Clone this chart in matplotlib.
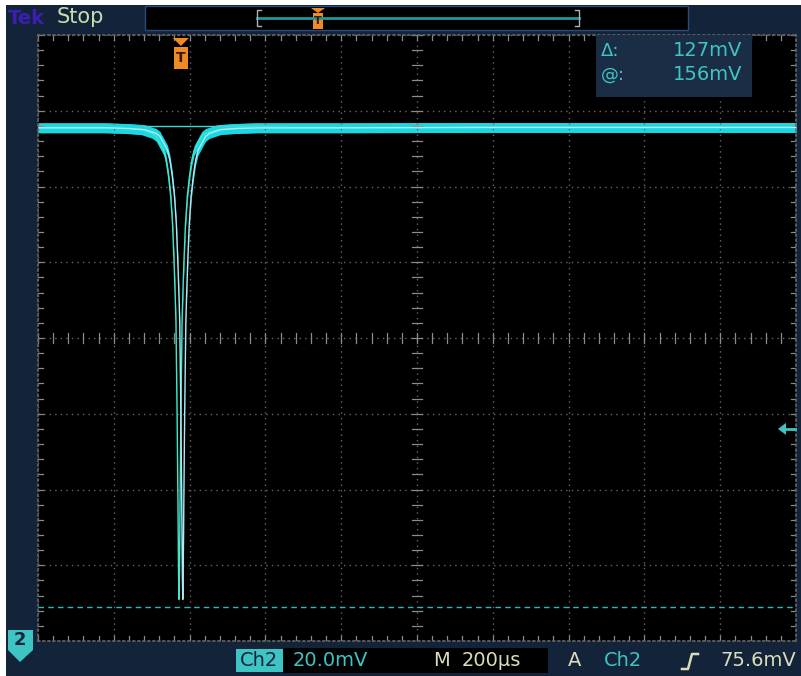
import matplotlib

matplotlib.use("Agg")

import matplotlib.pyplot as plt
import numpy as np
from matplotlib.patches import Polygon, Rectangle

# scope settings (20 mV/div, 200 us/div, 10 x 8 divisions)
VOLT_DIV = 20.0
TIME_DIV = 200.0
X_DIVS = 10
Y_DIVS = 8

# trace: time (us) and level (mV)
trace_time = [-1000, -900, -823, -763, -723, -693, -683, -671, -663, -657,
              -651, -645, -640, -636, -633, -631, -628, -625.7, -624.2, -623,
              -621.8, -620.3, -618, -615, -613, -610, -606, -601, -595, -589,
              -583, -575, -563, -553, -523, -483, -423, -200, 200, 600, 1000]
trace_mv = [55.5, 55.5, 55.5, 55.3, 55.0, 54.0, 53.2, 51.0, 49.5, 47.0,
            43.0, 37.5, 30.0, 20.0, 11.0, 4.0, -20.0, -44.0, -62.0, -69.0,
            -62.0, -44.0, -20.0, 4.0, 11.0, 20.0, 30.0, 37.5, 43.0, 47.0,
            49.5, 51.0, 53.2, 54.0, 55.0, 55.3, 55.5, 55.5, 55.6, 55.6, 55.6]

# cursors / markers
ref_line_time = [-720, -340]
ref_line_mv = 56.1
dashed_level_mv = -71.0
trig_time = -623
trig_level_mv = -24.0
readout = [("Δ:", "127mV"), ("@:", "156mV")]

NAVY = "#13243a"
TEAL = "#3fc4c4"
GRIDC = "#666666"
PALE = "#dcdcb8"

fig = plt.figure(figsize=(8.01, 6.76), dpi=100, facecolor="white")

# pixel-space background layer
bg = fig.add_axes([0, 0, 1, 1], zorder=0)
bg.set_xlim(0, 801)
bg.set_ylim(676, 0)
bg.axis("off")
bg.add_patch(Rectangle((6, 5), 795, 671, facecolor=NAVY, edgecolor="none"))

# top status bar
bg.add_patch(Rectangle((145, 6), 543, 24, facecolor="black", edgecolor="#2c4a78", linewidth=1))
bg.text(8, 18, "Tek", color="#3a1fb0", fontsize=14, fontweight="bold", va="center")
bg.text(57, 17, "Stop", color="#c8dcb0", fontsize=15, va="center")
bg.plot([257, 579], [18, 18], color="#1a9a9a", linewidth=2)
bg.plot([261, 257, 257, 261], [10, 10, 26, 26], color="#b0b0b0", linewidth=1)
bg.plot([575, 579, 579, 575], [10, 10, 26, 26], color="#b0b0b0", linewidth=1)
bg.add_patch(Polygon([[311, 8], [325, 8], [318, 13]], closed=True, facecolor="#f08a24"))
bg.add_patch(Rectangle((313, 13), 10, 16, facecolor="#f08a24", edgecolor="none"))
bg.text(318, 21, "T", color="#3a1a00", fontsize=8, fontweight="bold", ha="center", va="center")

# bottom status bar
bg.add_patch(Rectangle((283, 648), 265, 25, facecolor="black", edgecolor="none"))
bg.add_patch(Rectangle((236, 649), 47, 23, facecolor=TEAL, edgecolor="none"))
bg.text(259, 661, "Ch2", color=NAVY, fontsize=14, ha="center", va="center")
bg.text(293, 661, "20.0mV", color=TEAL, fontsize=14, va="center")
bg.text(433, 661, "M", color=PALE, fontsize=14, va="center")
bg.text(462, 661, "200µs", color=PALE, fontsize=14, va="center")
bg.text(568, 661, "A", color=PALE, fontsize=14, va="center")
bg.text(604, 661, "Ch2", color=TEAL, fontsize=14, va="center")
bg.plot([682, 688, 692, 698], [669, 669, 654, 654], color=PALE, linewidth=1.8)
bg.text(796, 661, "75.6mV", color=PALE, fontsize=14, ha="right", va="center")

# screen
x_half = X_DIVS / 2 * TIME_DIV
y_half = Y_DIVS / 2 * VOLT_DIV
ax = fig.add_axes([38 / 801, 1 - 641 / 676, 758 / 801, 606 / 676], zorder=1)
ax.set_facecolor("black")
ax.set_xlim(-x_half, x_half)
ax.set_ylim(-y_half, y_half)
ax.set_xticks(np.arange(-x_half, x_half + 1, TIME_DIV))
ax.set_yticks(np.arange(-y_half, y_half + 1, VOLT_DIV))
ax.tick_params(length=0, labelbottom=False, labelleft=False)
ax.grid(True, color=GRIDC, linestyle=(0, (1, 3)), linewidth=1)
for sp in ax.spines.values():
    sp.set_color(GRIDC)
    sp.set_linestyle((0, (1, 2)))
    sp.set_linewidth(1.2)

# minor ticks on centre cross and edges
mx = np.arange(-x_half, x_half + 1, TIME_DIV / 5)
my = np.arange(-y_half, y_half + 1, VOLT_DIV / 5)
tx = VOLT_DIV * 0.07
ty = TIME_DIV * 0.07
for x in mx:
    ax.plot([x, x], [-tx, tx], color="#8a8a8a", linewidth=0.9)
    ax.plot([x, x], [y_half, y_half - tx], color="#8a8a8a", linewidth=0.9)
    ax.plot([x, x], [-y_half, -y_half + tx], color="#8a8a8a", linewidth=0.9)
for y in my:
    ax.plot([-ty, ty], [y, y], color="#8a8a8a", linewidth=0.9)
    ax.plot([-x_half, -x_half + ty], [y, y], color="#8a8a8a", linewidth=0.9)
    ax.plot([x_half, x_half - ty], [y, y], color="#8a8a8a", linewidth=0.9)

# dashed cursor level
ax.axhline(dashed_level_mv, color="#2fb8b8", linestyle=(0, (4, 3)), linewidth=1)

# the trace (two overlapping sweeps give the doubled edges of the dip)
t = np.array(trace_time, dtype=float)
v = np.array(trace_mv, dtype=float)
for shift, edge in [(-5, "#40e8c8"), (5, "#b0e8f4")]:
    ax.fill_between(t + shift, v - 1.3, v + 1.3, color="#1ad8e2", linewidth=0)
    ax.plot(t + shift, v, color=edge, linewidth=1.0)
ax.plot(ref_line_time, [ref_line_mv, ref_line_mv], color="#3fd8d8", linewidth=1)

# overlay layer: trigger markers, readout box, channel marker
top = fig.add_axes([0, 0, 1, 1], zorder=5)
top.set_xlim(0, 801)
top.set_ylim(676, 0)
top.axis("off")
top.patch.set_alpha(0)

px_trig = 38 + (trig_time + x_half) / (2 * x_half) * 758
top.add_patch(Polygon([[px_trig - 8, 38], [px_trig + 8, 38], [px_trig, 46]], closed=True, facecolor="#f08a24"))
top.add_patch(Rectangle((px_trig - 7, 47), 14, 22, facecolor="#f08a24", edgecolor="none"))
top.text(px_trig, 58, "T", color="#3a1a00", fontsize=10, fontweight="bold", ha="center", va="center")

py_level = 338 - trig_level_mv / VOLT_DIV * 75.75
top.add_patch(Polygon([[778, py_level], [786, py_level - 6], [786, py_level + 6]], closed=True, facecolor=TEAL))
top.plot([786, 795], [py_level, py_level], color=TEAL, linewidth=2)

top.add_patch(Rectangle((596, 35), 156, 62, facecolor="#1a2d44", edgecolor="none"))
for i, (lab, val) in enumerate(readout):
    yy = 51 + i * 24
    top.text(601, yy, lab, color=TEAL, fontsize=13, va="center")
    top.text(742, yy, val, color=TEAL, fontsize=14, ha="right", va="center")

top.add_patch(Polygon([[8, 630], [33, 630], [33, 650], [20, 662], [8, 650]], closed=True, facecolor=TEAL))
top.text(20, 640, "2", color=NAVY, fontsize=13, fontweight="bold", ha="center", va="center")

fig.savefig("out.png", dpi=100, facecolor="white")
plt.close(fig)
